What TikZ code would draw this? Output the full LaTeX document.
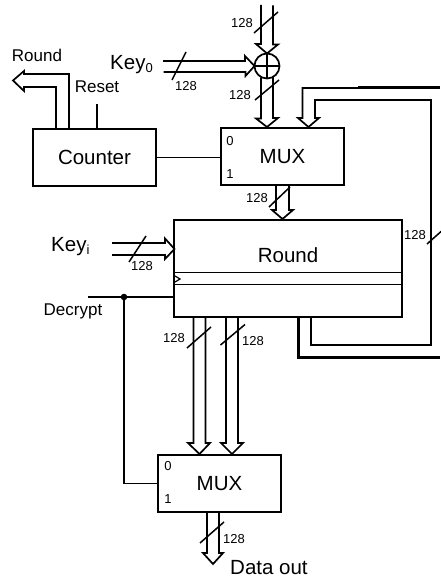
\documentclass[tikz,border=0pt]{standalone}
\usepackage{fontspec}
\setmainfont{Liberation Sans}
\usetikzlibrary{calc}
\begin{document}
\begin{tikzpicture}
   [x=1pt, y=-1pt,
    blockbox/.style={draw, line width=1.6pt, inner sep=0pt, outer sep=0pt},
    bus/.style={line width=1.7pt, miter limit=4},
    wire/.style={line width=1.2pt},
    thickbus/.style={line width=3pt},
    slash/.style={line width=1.5pt},
    bigtext/.style={inner sep=0pt, font=\fontsize{20.5}{24}\selectfont},
    midtext/.style={inner sep=0pt, font=\fontsize{17}{20}\selectfont},
    smalltext/.style={inner sep=0pt, font=\fontsize{13}{15}\selectfont}]
   \useasboundingbox (0,0) rectangle (440,577);

   % blocks
   \node[blockbox, bigtext, minimum width=123, minimum height=57] (counter) at (94.5,157.5) {Counter};
   \node[blockbox, bigtext, minimum width=123, minimum height=57] (muxa) at (282.5,156.5) {MUX};
   \node[blockbox, minimum width=228, minimum height=97] (round) at (288,268.5) {};
   \node[blockbox, bigtext, minimum width=123, minimum height=57] (muxb) at (219.5,483.5) {MUX};
   \node[draw, circle, line width=1.7pt, minimum size=25, inner sep=0pt, outer sep=0pt] (xor) at (267,66) {};
   \draw[line width=1.7pt] (xor.north) -- (xor.south);
   \draw[line width=1.7pt] (xor.west) -- (xor.east);
   \draw[wire] (174,272.5) -- (402,272.5);
   \draw[wire] (174,284.5) -- (402,284.5);
   \draw[wire] (175,276) -- (180,279) -- (175,282);
   \node[bigtext] (roundname) at (288,255) {Round};

   % free ends and arrow tips
   \coordinate (datain) at (261,5);
   \coordinate (keyzeroin) at (163,61);
   \coordinate (keyin) at (112,243);
   \coordinate (roundtip) at (282.5,219);
   \coordinate (muxatipa) at (267,127);
   \coordinate (muxatipb) at (308.5,127);
   \coordinate (muxbtipa) at (199.5,454);
   \coordinate (muxbtipb) at (232,454);
   \coordinate (roundout) at (13,80.5);
   \coordinate (dataout) at (213,564);
   \coordinate (reseten) at (97,104);
   \coordinate (decrypten) at (88,297);
   \coordinate (decryptdot) at (124,297);

   % buses
   \draw[bus] (datain) -- ++(0,39) -- ++(-5,0) -- (xor.north) -- ++(11,-9) -- ++(-5,0) -- ++(0,-39);
   \draw[bus] (keyzeroin) -- ++(82,0) -- ++(0,-5) -- (xor.west) -- ++(-9,10) -- ++(0,-4) -- ++(-82,0);
   \draw[bus] ($(xor.south)+(-6,-1)$) -- ++(0,41) -- ++(-5,0) -- (muxatipa) -- ++(11,-9) -- ++(-5,0) -- ++(0,-41);
   \draw[bus] ([xshift=-6.5pt]muxa.south) -- ++(0,25) -- ++(-4,0) -- (roundtip) -- ++(10.5,-9) -- ++(-4,0) -- ++(0,-25);
   \draw[bus] (keyin) -- ++(53,0) -- ++(0,-4.5) -- (174.5,249) -- ++(-9.5,10) -- ++(0,-4) -- ++(-53,0);
   \draw[bus] ([xshift=-38.5pt]counter.north) -- ++(0,-42) -- ++(-32,0) -- ++(0,4) -- (roundout) -- ++(11,-9.5) -- ++(0,3) -- ++(45,0) -- ++(0,55);
   \draw[bus] ([xshift=-94.5pt]round.south) -- ++(0,126) -- ++(-5.5,0) -- (muxbtipa) -- ++(10.5,-11) -- ++(-4.5,0) -- ++(0,-126);
   \draw[bus] ([xshift=-62pt]round.south) -- ++(0,126) -- ++(-5,0) -- (muxbtipb) -- ++(11,-11) -- ++(-5,0) -- ++(0,-126);
   \draw[bus] ([xshift=-12.5pt]muxb.south) -- ++(0,41) -- ++(-4,0) -- (dataout) -- ++(10,-11) -- ++(-4,0) -- ++(0,-41);

   % feedback
   \draw[bus] (muxatipb) -- ++(-10.5,-9) -- ++(4.5,0) -- ++(0,-30) -- (358,88);
   \draw[thickbus] (358,88) -- (440,88);
   \draw[bus] (muxatipb) -- ++(10.5,-9) -- ++(-4,0) -- ++(0,-18) -- (431,100) -- (431,345) -- (311,345) -- (311,317);
   \draw[thickbus] (298,317) -- (298,357) -- (440,357);

   % control lines
   \draw[wire] (counter.east) -- (counter.east -| muxa.west);
   \draw[wire] (reseten) -- (reseten |- counter.north);
   \draw[wire] (decrypten) -- (decrypten -| round.west);
   \draw[wire] (decryptdot) |- (muxb.west);
   \fill (decryptdot) circle (3.3);

   % width marks
   \draw[slash] (254,33) -- (278,12);
   \draw[slash] (255,100) -- (279,80);
   \draw[slash] (172,80) -- (186,52);
   \draw[slash] (129,262) -- (146,236);
   \draw[slash] (269,207) -- (290,187);
   \draw[slash] (187,348) -- (211,327);
   \draw[slash] (220.5,345) -- (245,324.5);
   \draw[slash] (200,543) -- (224,522);
   \draw[slash] (427,244) -- (445,228);

   % labels
   \node[midtext] (roundlabel) at (37,55) {Round};
   \node[midtext] (resetlabel) at (97,87) {Reset};
   \node[midtext] (decryptlabel) at (73,311) {Decrypt};
   \node[bigtext, anchor=base west] (keyzerolabel) at (110,70) {Key\raisebox{-3pt}{\fontsize{13}{15}\selectfont 0}};
   \node[bigtext, anchor=base west] (keylabel) at (51,251) {Key\raisebox{-3pt}{\fontsize{13}{15}\selectfont i}};
   \node[bigtext, anchor=base west] (datalabel) at (230,574) {Data out};
   \node[smalltext] (widtha) at (242,23) {128};
   \node[smalltext] (widthb) at (240,95) {128};
   \node[smalltext] (widthc) at (186,86) {128};
   \node[smalltext] (widthd) at (142,266) {128};
   \node[smalltext] (widthe) at (257,198) {128};
   \node[smalltext] (widthf) at (174,338) {128};
   \node[smalltext] (widthg) at (253,341) {128};
   \node[smalltext] (widthh) at (234,539) {128};
   \node[smalltext] (widthi) at (415,235) {128};
   \node[smalltext] (muxazero) at (230,141) {0};
   \node[smalltext] (muxaone) at (230,174) {1};
   \node[smalltext] (muxbzero) at (168,466) {0};
   \node[smalltext] (muxbone) at (168,499) {1};
\end{tikzpicture}
\end{document}
